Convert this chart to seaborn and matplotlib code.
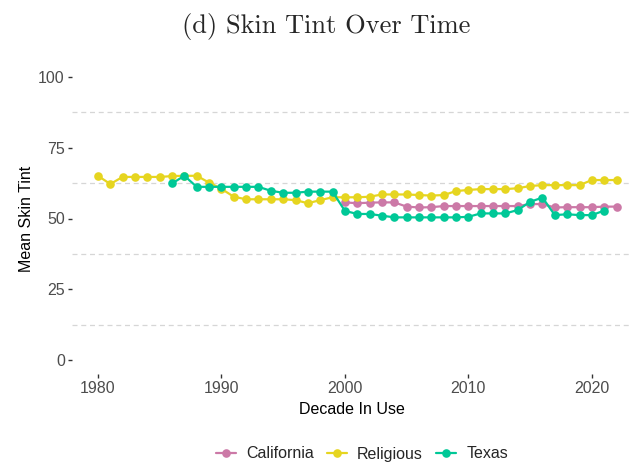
import numpy as np
import pandas as pd
import seaborn as sns
import matplotlib.pyplot as plt
from matplotlib.lines import Line2D

# Yearly mean skin tint per source
religious_years = list(range(1980, 2023))
religious = [65.1, 62.2, 64.7, 64.7, 64.7, 64.7, 65.0, 65.1, 65.1, 62.7,
             60.5, 57.7, 56.8, 56.8, 56.8, 56.8, 56.5, 55.4, 56.5, 57.5,
             57.5, 57.5, 57.7, 58.5, 58.5, 58.5, 58.3, 58.1, 58.3, 59.7,
             60.1, 60.4, 60.4, 60.4, 60.7, 61.5, 61.8, 61.8, 61.8, 61.8,
             63.6, 63.6, 63.6]

california_years = list(range(2000, 2023))
california = [55.7, 55.4, 55.6, 55.7, 55.7, 54.2, 53.9, 54.0, 54.4, 54.4,
              54.4, 54.4, 54.4, 54.4, 54.4, 55.1, 55.1, 53.9, 54.0, 54.0,
              54.0, 54.2, 54.2]

texas_years = list(range(1986, 2022))
texas = [62.4, 65.1, 61.2, 61.2, 61.2, 61.2, 61.2, 61.2, 59.8, 59.1,
         59.1, 59.5, 59.5, 59.5, 52.7, 51.6, 51.6, 51.0, 50.4, 50.4,
         50.4, 50.4, 50.4, 50.4, 50.6, 51.8, 51.8, 51.8, 53.0, 55.9,
         57.4, 51.2, 51.5, 51.2, 51.2, 52.8]

groups = ["California", "Religious", "Texas"]
colors = {"California": "#CC79A7", "Religious": "#E6D520", "Texas": "#00C897"}

df = pd.concat([
    pd.DataFrame({"year": california_years, "tint": california, "group": "California"}),
    pd.DataFrame({"year": religious_years, "tint": religious, "group": "Religious"}),
    pd.DataFrame({"year": texas_years, "tint": texas, "group": "Texas"}),
], ignore_index=True)

sns.set_theme(style="white")
plt.rcParams["font.family"] = ["Liberation Sans", "DejaVu Sans"]

W, H = 634, 463
fig = plt.figure(figsize=(W / 100, H / 100), dpi=100)
ax = fig.add_axes([72 / W, (H - 374) / H, (632 - 72) / W, (374 - 63) / H])

for g in groups:
    sns.lineplot(data=df[df["group"] == g], x="year", y="tint", ax=ax,
                 color=colors[g], marker="o", markersize=6.2,
                 markeredgewidth=0, linewidth=1.6, legend=False)

ax.set_xlim(1977.9, 2023.25)
ax.set_ylim(-5, 105)
ax.set_xticks([1980, 1990, 2000, 2010, 2020])
ax.set_yticks([0, 25, 50, 75, 100])
ax.set_yticks([12.5, 37.5, 62.5, 87.5], minor=True)
ax.grid(False)
ax.grid(True, which="minor", axis="y", linestyle=(0, (4, 3)),
        color="#D6D6D6", linewidth=0.9)
ax.tick_params(axis="y", which="minor", length=0, left=False)
ax.tick_params(axis="both", which="major", bottom=True, left=True,
               length=3.2, width=1.0, color="#333333", labelsize=11.5,
               labelcolor="#4D4D4D", pad=2)
for s in ax.spines.values():
    s.set_visible(False)

ax.set_xlabel("Decade In Use", fontsize=11.5, color="black", labelpad=4)
ax.set_ylabel("Mean Skin Tint", fontsize=11.5, color="black", labelpad=3)

fig.text(0.5 * (183 + 470) / W, 1 - 26 / H, "(d) Skin Tint Over Time",
         fontfamily="cmr10", fontsize=19, ha="center", va="center")

handles = [Line2D([0], [0], color=colors[g], marker="o", markersize=6.2,
                  markeredgewidth=0, linewidth=1.6) for g in groups]
fig.legend(handles, groups, loc="center", bbox_to_anchor=(362 / W, 1 - 454 / H),
           ncol=3, frameon=False, fontsize=11.5, handlelength=1.25,
           handletextpad=0.65, columnspacing=0.8)

fig.savefig("out.png", dpi=100)
